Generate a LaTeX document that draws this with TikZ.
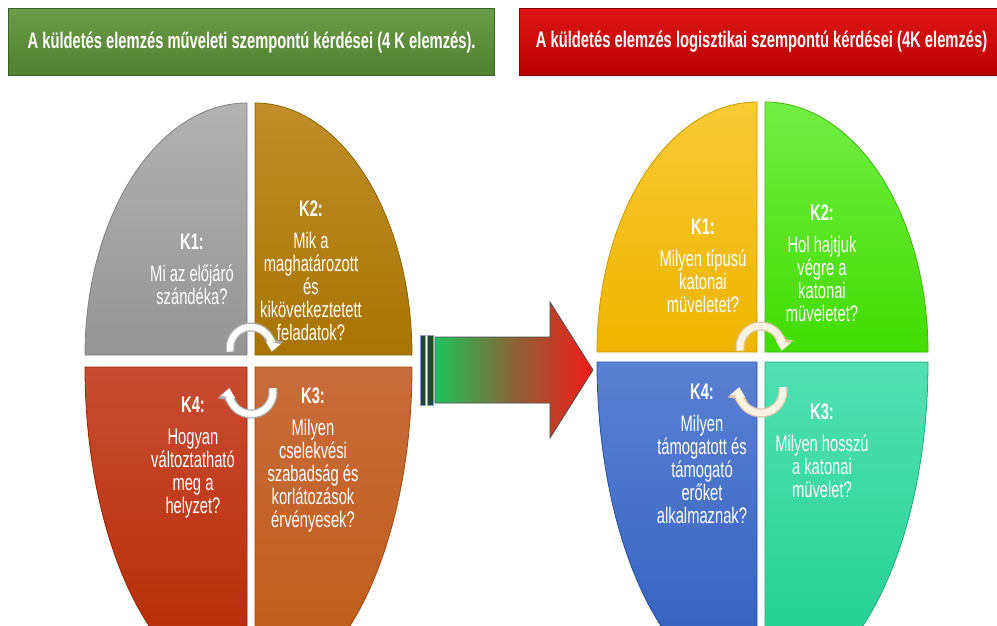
\documentclass[tikz,border=0pt]{standalone}
\usepackage{fontspec}
\setmainfont[FakeStretch=0.655]{Liberation Sans}
\usetikzlibrary{arrows.meta}
\definecolor{hgTop}{HTML}{6C9C46}
\definecolor{hgBot}{HTML}{4F7F30}
\definecolor{hgEdge}{HTML}{3A6224}
\definecolor{hrTop}{HTML}{DE1616}
\definecolor{hrBot}{HTML}{B80000}
\definecolor{hrEdge}{HTML}{8A0000}
\definecolor{grayT}{HTML}{B2B2B2}
\definecolor{grayB}{HTML}{959595}
\definecolor{goldT}{HTML}{C08E2A}
\definecolor{goldB}{HTML}{A87402}
\definecolor{redT}{HTML}{C84C32}
\definecolor{redB}{HTML}{B42800}
\definecolor{orT}{HTML}{C86C3C}
\definecolor{orB}{HTML}{BE5A12}
\definecolor{yelT}{HTML}{F8CA34}
\definecolor{yelB}{HTML}{EEB400}
\definecolor{grnT}{HTML}{72EE44}
\definecolor{grnB}{HTML}{42DC02}
\definecolor{bluT}{HTML}{5A80D2}
\definecolor{bluB}{HTML}{2F5EBE}
\definecolor{teaT}{HTML}{52E0B2}
\definecolor{teaB}{HTML}{1ECE8E}
\definecolor{arG}{HTML}{1EC25C}
\definecolor{arM}{HTML}{8A6236}
\definecolor{arR}{HTML}{F41A1A}
\definecolor{barC}{HTML}{1D4A32}
\definecolor{cream}{HTML}{FAF3E2}
\begin{document}
\begin{tikzpicture}[x=1pt,y=-1pt,
  hdr/.style={minimum height=67pt, inner sep=0pt, anchor=north west, text=white,
    font=\fontsize{22.5}{25}\selectfont\bfseries, line width=1.2pt},
  quadshape/.style={line width=0.8pt},
  qtext/.style={anchor=north, align=center, inner sep=0pt, text=white,
    font=\fontsize{22.5}{23}\selectfont},
  cycout/.style={line width=9pt, draw=#1, -{Triangle[width=19pt,length=12pt]}},
  cycin/.style={line width=6.5pt, draw=#1, -{Triangle[width=14.5pt,length=9pt]}}
]
\useasboundingbox (0,0) rectangle (997,626);
\clip (0,0) rectangle (997,626);

% headers
\node[hdr, minimum width=486pt, top color=hgTop, bottom color=hgBot, draw=hgEdge]
  (hL) at (8,8) {A küldetés elemzés műveleti szempontú kérdései (4 K elemzés).};
\node[hdr, minimum width=484pt, top color=hrTop, bottom color=hrBot, draw=hrEdge]
  (hR) at (519,8) {A küldetés elemzés logisztikai szempontú kérdései (4K elemzés)};

% left ellipse quadrants
\path[quadshape, top color=grayT, bottom color=grayB, draw=grayB!85!black]
  (247,355) -- (85,355) arc[start angle=180,end angle=270,x radius=162,y radius=252] -- cycle;
\path[quadshape, top color=goldT, bottom color=goldB, draw=goldB!85!black]
  (255,355) -- (255,103) arc[start angle=270,end angle=360,x radius=157,y radius=252] -- cycle;
\path[quadshape, top color=redT, bottom color=redB, draw=redB!85!black]
  (247,367) -- (85,367) arc[start angle=180,end angle=90,x radius=162,y radius=325] -- cycle;
\path[quadshape, top color=orT, bottom color=orB, draw=orB!85!black]
  (255,367) -- (412,367) arc[start angle=0,end angle=90,x radius=157,y radius=325] -- cycle;

% right ellipse quadrants
\path[quadshape, top color=yelT, bottom color=yelB, draw=yelB!85!black]
  (757,352) -- (597,352) arc[start angle=180,end angle=270,x radius=160,y radius=250] -- cycle;
\path[quadshape, top color=grnT, bottom color=grnB, draw=grnB!85!black]
  (765,352) -- (765,102) arc[start angle=270,end angle=360,x radius=163,y radius=250] -- cycle;
\path[quadshape, top color=bluT, bottom color=bluB, draw=bluB!85!black]
  (757,362) -- (597,362) arc[start angle=180,end angle=90,x radius=160,y radius=330] -- cycle;
\path[quadshape, top color=teaT, bottom color=teaB, draw=teaB!85!black]
  (765,362) -- (928,362) arc[start angle=0,end angle=90,x radius=163,y radius=330] -- cycle;

% big arrow
\path[fill=barC, draw=gray!60!blue!60, line width=0.8pt] (420,335) rectangle (425,405);
\path[fill=barC, draw=gray!60!blue!60, line width=0.8pt] (427.5,335) rectangle (433,405);
\path[left color=arG, right color=arR, middle color=arM, draw=black!70, line width=0.8pt]
  (435,337) -- (550,337) -- (550,302) -- (593,370) -- (550,438) -- (550,403) -- (435,403) -- cycle;

% circular arrows
\draw[cycout=gray!65] (230.3,351.6) arc[start angle=170,end angle=370,radius=21];
\draw[cycin=white] (230.3,351.6) arc[start angle=170,end angle=370,radius=21];
\draw[cycout=gray!65] (272.7,388.2) arc[start angle=-10,end angle=190,radius=22];
\draw[cycin=white] (272.7,388.2) arc[start angle=-10,end angle=190,radius=22];
\draw[cycout=brown!45] (740.3,350.6) arc[start angle=170,end angle=370,radius=21];
\draw[cycin=cream] (740.3,350.6) arc[start angle=170,end angle=370,radius=21];
\draw[cycout=brown!45] (782.7,387.2) arc[start angle=-10,end angle=190,radius=22];
\draw[cycin=cream] (782.7,387.2) arc[start angle=-10,end angle=190,radius=22];

% texts left
\node[qtext] (lk1) at (192,233.5) {\textbf{K1:}\\[9pt]Mi az előjáró\\szándéka?};
\node[qtext] (lk2) at (311,200.5) {\textbf{K2:}\\[9pt]Mik a\\maghatározott\\és\\kikövetkeztetett\\feladatok?};
\node[qtext] (lk4) at (193,396.5) {\textbf{K4:}\\[9pt]Hogyan\\változtatható\\meg a\\helyzet?};
\node[qtext] (lk3) at (313,387.5) {\textbf{K3:}\\[9pt]Milyen\\cselekvési\\szabadság és\\korlátozások\\érvényesek?};
% texts right
\node[qtext] (rk1) at (703,218.5) {\textbf{K1:}\\[9pt]Milyen típusú\\katonai\\müveletet?};
\node[qtext] (rk2) at (822,204.5) {\textbf{K2:}\\[9pt]Hol hajtjuk\\végre a\\katonai\\müveletet?};
\node[qtext] (rk4) at (702,383.5) {\textbf{K4:}\\[9pt]Milyen\\támogatott és\\támogató\\erőket\\alkalmaznak?};
\node[qtext] (rk3) at (822,403.5) {\textbf{K3:}\\[9pt]Milyen hosszú\\a katonai\\müvelet?};
\end{tikzpicture}
\end{document}
